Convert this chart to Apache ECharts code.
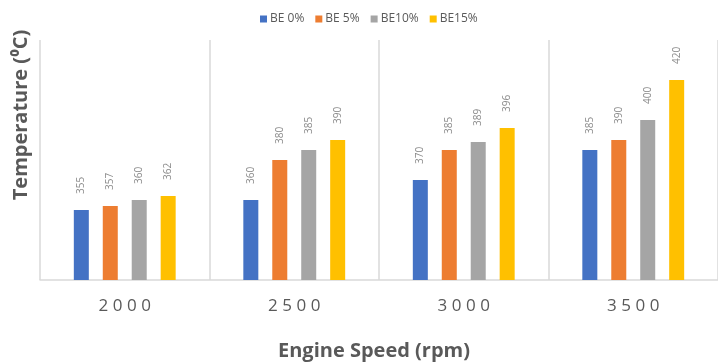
<!DOCTYPE html>
<html>
<head>
<meta charset="utf-8">
<script src="https://cdn.jsdelivr.net/npm/echarts@6/dist/echarts.min.js"></script>
<style>
  html, body { margin: 0; padding: 0; background: #ffffff; }
  #chart { width: 718px; height: 364px; }
</style>
</head>
<body>
<div id="chart"></div>
<script>
// Engine speeds (rpm) on the category axis
const speeds = ['2000', '2500', '3000', '3500'];
// Exhaust temperature (°C) per blend
const be0 = [355, 360, 370, 385];
const be5 = [357, 380, 385, 390];
const be10 = [360, 385, 389, 400];
const be15 = [362, 390, 396, 420];
const seriesNames = ['BE 0%', 'BE 5%', 'BE10%', 'BE15%'];
const seriesValues = [be0, be5, be10, be15];
const colors = ['#4472C4', '#ED7D31', '#A5A5A5', '#FFC000'];

const chart = echarts.init(document.getElementById('chart'));

const series = seriesNames.map((name, i) => ({
  name: name,
  type: 'bar',
  data: seriesValues[i],
  barWidth: 15,
  barGap: '93%',
  itemStyle: { color: colors[i] },
  label: {
    show: true,
    position: 'top',
    distance: 16,
    rotate: 90,
    align: 'left',
    verticalAlign: 'middle',
    color: '#8c8c8c',
    fontSize: 10,
    fontFamily: 'Open Sans'
  }
}));

chart.setOption({
  animation: false,
  color: colors,
  legend: {
    left: 255,
    top: 8,
    icon: 'rect',
    itemWidth: 7,
    itemHeight: 7,
    itemGap: 11,
    textStyle: { color: '#595959', fontSize: 12, fontFamily: 'Open Sans', padding: [0, 0, 0, -2] },
    data: seriesNames
  },
  grid: { left: 40, top: 40, width: 684, height: 240, containLabel: false },
  xAxis: {
    type: 'category',
    data: speeds,
    axisLine: { lineStyle: { color: '#d9d9d9', width: 1.5 } },
    axisTick: { show: false },
    splitLine: { show: true, lineStyle: { color: '#d9d9d9', width: 1.5 } },
    axisLabel: {
      margin: 18,
      color: '#595959',
      fontSize: 17,
      fontFamily: 'Open Sans',
      formatter: v => v.split('').join('\u2009\u200A')
    }
  },
  yAxis: {
    type: 'value',
    min: 320,
    max: 440,
    interval: 20,
    axisLine: { show: false },
    axisTick: { show: false },
    axisLabel: { show: false },
    splitLine: { show: false }
  },
  graphic: [
    {
      type: 'text',
      x: 21,
      y: 115,
      rotation: Math.PI / 2,
      style: {
        text: 'Temperature (\u2070C)',
        fill: '#595959',
        font: 'bold 20px "Open Sans"',
        align: 'center',
        verticalAlign: 'middle'
      }
    },
    {
      type: 'text',
      x: 374,
      y: 351,
      style: {
        text: 'Engine Speed (rpm)',
        fill: '#595959',
        font: 'bold 20px "Open Sans"',
        align: 'center',
        verticalAlign: 'middle'
      }
    }
  ],
  series: series
});
</script>
</body>
</html>
